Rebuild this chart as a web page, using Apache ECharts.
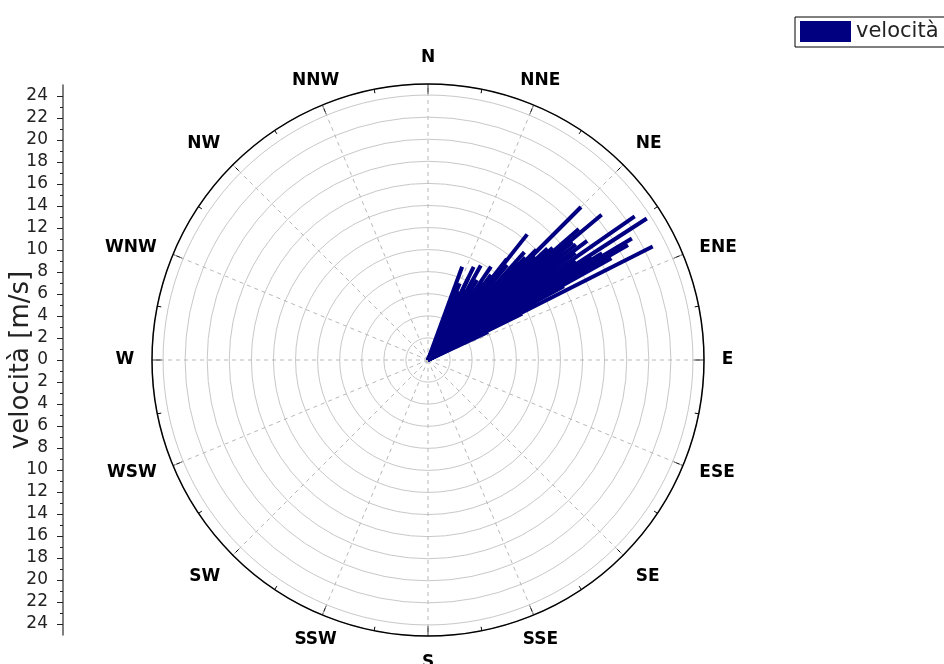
<!DOCTYPE html>
<html><head><meta charset="utf-8">
<script src="https://cdn.jsdelivr.net/npm/echarts@6/dist/echarts.min.js"></script>
<style>html,body{margin:0;padding:0;background:#fff}#c{width:944px;height:664px}</style>
</head><body><div id="c"></div>
<script>
// wind direction (degrees clockwise from North) and speed (m/s)
var directions = [20.1,22.5,24.0,26.1,26.2,28.0,29.2,30.5,31.5,33.0,35.1,36.5,38.0,38.3,39.7,40.9,39.8,41.8,42.3,43.5,44.5,45.0,46.0,47.0,48.0,48.3,48.7,49.0,49.5,50.1,50.4,50.8,51.5,52.0,52.9,53.2,54.0,55.2,55.0,56.1,56.5,57.1,57.5,58.1,58.5,59.2,60.1,60.5,61.0,61.5,62.0,63.2,63.8,65.0,44.0,46.5,42.5,53.5,34.0,37.0];
var speeds     = [9.0,7.5,6.8,9.4,8.3,7.2,9.8,7.8,8.5,7.6,8.6,9.6,11.6,14.5,9.1,8.7,11.2,13.1,12.0,12.8,14.0,19.6,13.5,14.8,15.2,15.1,13.8,18.1,16.0,20.5,16.2,16.9,15.5,17.0,14.9,18.0,16.5,22.8,14.0,16.1,13.5,23.6,17.5,13.8,18.5,21.5,20.9,12.5,19.0,14.0,11.0,22.8,9.5,6.0,10.5,11.5,10.0,12.5,10.2,8.8];
var compassNames = ['N','NNE','NE','ENE','E','ESE','SE','SSE','S','SSW','SW','WSW','W','WNW','NW','NNW'];
var speedTicks = [-24,-22,-20,-18,-16,-14,-12,-10,-8,-6,-4,-2,0,2,4,6,8,10,12,14,16,18,20,22,24];
var speedMinorTicks = [-24,-23,-22,-21,-20,-19,-18,-17,-16,-15,-14,-13,-12,-11,-10,-9,-8,-7,-6,-5,-4,-3,-2,-1,0,1,2,3,4,5,6,7,8,9,10,11,12,13,14,15,16,17,18,19,20,21,22,23,24];
var seriesName = 'velocità';
var axisTitle = 'velocità [m/s]';

var segData = directions.map(function(d, i){ return [speeds[i], d]; });
var LABEL_R = 26.6;
var compassData = compassNames.map(function(n, i){
  var a = i * 22.5, rad = a * Math.PI / 180, s = Math.sin(rad), c = Math.cos(rad);
  return {
    name: n, value: [LABEL_R, a],
    label: {
      align: Math.abs(s) < 0.5 ? 'center' : (s > 0 ? 'left' : 'right'),
      verticalAlign: Math.abs(c) < 0.5 ? 'middle' : (c > 0 ? 'bottom' : 'top')
    }
  };
});

var chart = echarts.init(document.getElementById('c'), null, {renderer: 'canvas'});
chart.setOption({
  animation: false,
  backgroundColor: '#fff',
  textStyle: {fontFamily: 'DejaVu Sans'},
  legend: {
    data: [{name: seriesName, icon: 'rect'}],
    left: 795, top: 17, padding: [4, 6, 5, 5],
    borderColor: '#000', borderWidth: 1,
    itemWidth: 51, itemHeight: 21, itemGap: 5,
    textStyle: {fontSize: 21, color: '#222', fontFamily: 'DejaVu Sans'},
    selectedMode: false
  },
  polar: {center: [428, 360], radius: 276},
  angleAxis: {
    type: 'value', min: 0, max: 360, interval: 22.5,
    startAngle: 90, clockwise: true,
    axisLine: {show: true, lineStyle: {color: '#000', width: 1.5}},
    axisTick: {show: true, inside: true, length: 10, lineStyle: {color: '#000', width: 1}},
    minorTick: {show: true, splitNumber: 2, length: 4, lineStyle: {color: '#000', width: 1}},
    axisLabel: {show: false},
    splitLine: {show: true, lineStyle: {color: '#b8b8b8', type: [4, 4], width: 1}}
  },
  radiusAxis: {
    type: 'value', min: 0, max: 25, interval: 2,
    axisLine: {show: false}, axisTick: {show: false}, axisLabel: {show: false},
    splitLine: {show: true, lineStyle: {color: '#c8c8c8', width: 1}}
  },
  grid: {left: 63, top: 85, width: 10, height: 550, containLabel: false, outerBoundsMode: 'none'},
  xAxis: {type: 'value', show: false, gridIndex: 0},
  yAxis: [{
    type: 'value', min: -25, max: 25, position: 'left', offset: 0,
    axisLine: {show: true, lineStyle: {color: '#555', width: 1.5}},
    axisTick: {show: true, customValues: speedTicks, length: 6, lineStyle: {color: '#222'}},
    axisLabel: {show: true, customValues: speedTicks, fontSize: 17, color: '#222', margin: 15,
      formatter: function(v){ return String(Math.abs(v)); }},
    splitLine: {show: false},
    name: axisTitle, nameLocation: 'middle', nameGap: 29, nameMoveOverlap: false,
    nameTextStyle: {fontSize: 26, color: '#222'}
  }, {
    type: 'value', min: -25, max: 25, position: 'left', offset: 0,
    axisLine: {show: false},
    axisTick: {show: true, customValues: speedMinorTicks, length: 3, lineStyle: {color: '#222'}},
    axisLabel: {show: false},
    splitLine: {show: false}
  }],
  series: [{
    name: seriesName,
    type: 'custom',
    coordinateSystem: 'polar',
    itemStyle: {color: '#000080'},
    data: segData,
    renderItem: function(params, api){
      var p0 = api.coord([0, api.value(1)]);
      var p1 = api.coord([api.value(0), api.value(1)]);
      return {type: 'line', shape: {x1: p0[0], y1: p0[1], x2: p1[0], y2: p1[1]},
        style: {stroke: '#000080', lineWidth: 4, fill: null}};
    },
    z: 5
  }, {
    type: 'scatter', coordinateSystem: 'polar', silent: true, clip: false,
    symbolSize: 0, data: compassData,
    itemStyle: {opacity: 1},
    label: {show: true, position: 'inside', formatter: '{b}', fontSize: 17, fontWeight: 'bold',
      color: '#000', opacity: 1, fontFamily: 'DejaVu Sans'},
    emphasis: {disabled: true},
    z: 6
  }]
});
</script></body></html>
